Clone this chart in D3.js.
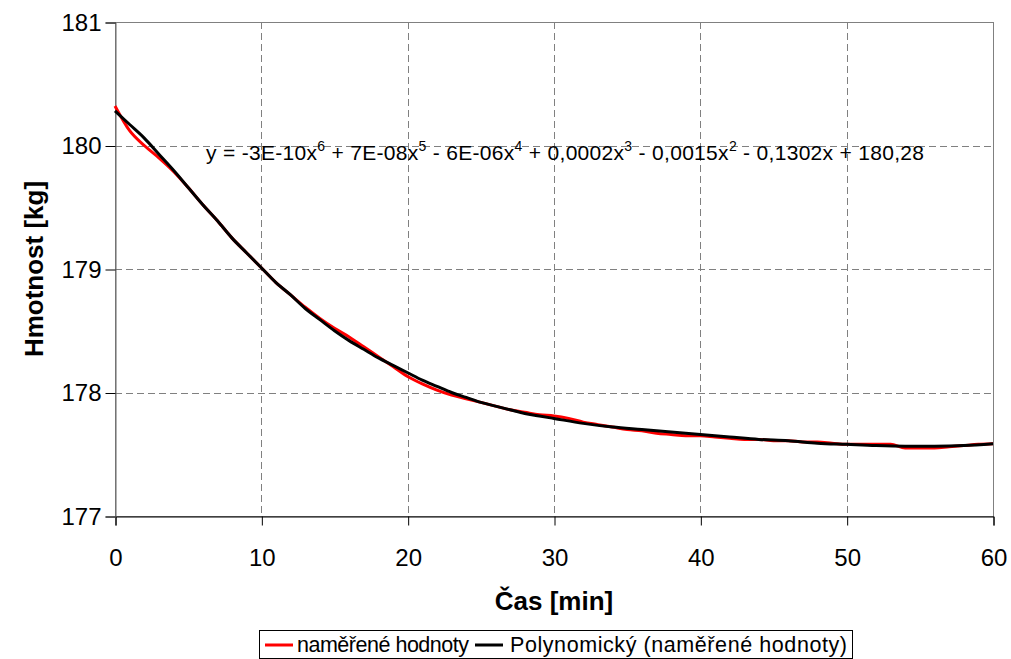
<!DOCTYPE html>
<html>
<head>
<meta charset="utf-8">
<script src="https://cdn.jsdelivr.net/npm/d3@7"></script>
<style>
  html, body { margin: 0; padding: 0; background: #fff; }
  svg { display: block; font-family: "Liberation Sans", Arial, sans-serif; }
  .pre { white-space: pre; }
</style>
</head>
<body>
<svg id="chart" width="1011" height="659"></svg>
<script>
// Measured mass over time (minutes)
const timeMeasured = [0,1,2,3,4,5,6,7,8,9,10,11,12,13,14,15,16,17,18,19,20,21,22,23,24,25,26,27,28,29,30,
  31,32,33,34,35,36,37,38,39,40,41,42,43,44,45,46,47,48,49,50,51,52,53,54,55,56,57,58,59,60];
const massMeasured = [180.32,180.12,180.00,179.90,179.79,179.66,179.52,179.39,179.25,179.13,179.01,
  178.89,178.79,178.69,178.60,178.52,178.45,178.37,178.29,178.21,178.13,178.07,178.02,177.98,177.95,
  177.92,177.89,177.86,177.84,177.82,177.81,177.79,177.76,177.74,177.72,177.70,177.69,177.67,177.66,
  177.65,177.65,177.64,177.63,177.62,177.62,177.61,177.61,177.60,177.60,177.59,177.58,177.58,177.58,
  177.58,177.55,177.55,177.55,177.56,177.57,177.58,177.585];

// Polynomial trendline (6th order) sampled along the time axis
const timeTrend = [0,1,2,3,4,5,6,7,8,9,10,11,12,13,14,15,16,17,18,19,20,21,22,23,24,25,26,27,28,29,30,
  32,34,36,38,40,42,44,46,48,50,52,54,56,58,60];
const massTrend = [180.28,180.17,180.06,179.93,179.80,179.66,179.52,179.39,179.25,179.13,179.01,
  178.89,178.79,178.68,178.59,178.50,178.42,178.35,178.28,178.22,178.16,178.10,178.05,178.00,177.96,
  177.92,177.89,177.86,177.83,177.81,177.79,177.75,177.72,177.70,177.68,177.66,177.64,177.62,177.61,
  177.59,177.58,177.57,177.565,177.565,177.57,177.585];

const xTicks = [0,10,20,30,40,50,60];
const yTicks = [177,178,179,180,181];

const xTitle = "Čas [min]";
const yTitle = "Hmotnost [kg]";
const seriesNames = ["naměřené hodnoty", "Polynomický (naměřené hodnoty)"];
const seriesColors = ["#ff0000", "#000000"];
// trendline equation: [text, superscript] pieces
const equationParts = [["y = -3E-10x","6"],[" + 7E-08x","5"],[" - 6E-06x","4"],[" + 0,0002x","3"],
  [" - 0,0015x","2"],[" - 0,1302x + 180,28",""]];

const svg = d3.select("#chart");
const plotL = 115, plotR = 993, plotT = 22, plotB = 516;
const FONT = "'Liberation Sans', Arial, sans-serif";

const x = d3.scaleLinear().domain([0, 60]).range([plotL, plotR]);
const y = d3.scaleLinear().domain([177, 181]).range([plotB, plotT]);

// grid
const grid = svg.append("g").attr("stroke", "#808080").attr("stroke-width", 1)
  .attr("stroke-dasharray", "7,4").attr("fill", "none");
yTicks.filter(v => v > 177 && v < 181).forEach(v => {
  grid.append("line").attr("x1", plotL).attr("x2", plotR)
    .attr("y1", Math.round(y(v)) + 0.5).attr("y2", Math.round(y(v)) + 0.5);
});
xTicks.filter(v => v > 0 && v < 60).forEach(v => {
  grid.append("line").attr("y1", plotT).attr("y2", plotB)
    .attr("x1", Math.round(x(v)) + 0.5).attr("x2", Math.round(x(v)) + 0.5);
});

// plot area border
svg.append("rect").attr("x", plotL + 0.5).attr("y", plotT + 0.5)
  .attr("width", plotR - plotL).attr("height", plotB - plotT)
  .attr("fill", "none").attr("stroke", "#808080").attr("stroke-width", 1);

// axes
const xAxis = d3.axisBottom(x).tickValues(xTicks).tickSize(9).tickPadding(23).tickFormat(d3.format("d"));
const yAxis = d3.axisLeft(y).tickValues(yTicks).tickSize(10).tickPadding(4).tickFormat(d3.format("d"));

const gx = svg.append("g").attr("transform", `translate(0.5,${plotB + 0.5})`).call(xAxis);
const gy = svg.append("g").attr("transform", `translate(${plotL + 0.5},0.5)`).call(yAxis);
[gx, gy].forEach(g => {
  g.attr("font-family", FONT).attr("font-size", 24);
  g.select(".domain").attr("stroke", "#000");
  g.selectAll(".tick line").attr("stroke", "#000");
  g.selectAll(".tick text").attr("fill", "#000");
});
gy.select(".domain").attr("stroke", "#666");

// series
const line = d3.line().x(d => x(d[0])).y(d => y(d[1])).curve(d3.curveMonotoneX);
svg.append("path").datum(d3.zip(timeMeasured, massMeasured))
  .attr("d", line).attr("fill", "none").attr("stroke", seriesColors[0])
  .attr("stroke-width", 3).attr("stroke-linejoin", "round");
svg.append("path").datum(d3.zip(timeTrend, massTrend))
  .attr("d", line).attr("fill", "none").attr("stroke", seriesColors[1])
  .attr("stroke-width", 3).attr("stroke-linejoin", "round");

// trendline equation with superscript exponents
const eq = svg.append("text").attr("class", "pre").attr("x", 206).attr("y", 160)
  .attr("font-family", FONT).attr("font-size", 21).attr("fill", "#000")
  .attr("textLength", 718).attr("lengthAdjust", "spacing");
let shift = 0;
equationParts.forEach(([t, s]) => {
  eq.append("tspan").attr("dy", shift).text(t);
  shift = 0;
  if (s) {
    eq.append("tspan").text(s).attr("dy", -9).attr("font-size", 14);
    shift = 9;
  }
});

// axis titles
svg.append("text").attr("x", (plotL + plotR) / 2).attr("y", 610)
  .attr("text-anchor", "middle").attr("font-family", FONT).attr("font-size", 26)
  .attr("font-weight", "bold").text(xTitle);
svg.append("text").attr("transform", `translate(43,${(plotT + plotB) / 2}) rotate(-90)`)
  .attr("text-anchor", "middle").attr("font-family", FONT).attr("font-size", 26)
  .attr("font-weight", "bold").text(yTitle);

// legend
const lg = svg.append("g");
lg.append("rect").attr("x", 259.5).attr("y", 630.5).attr("width", 593).attr("height", 28)
  .attr("fill", "#fff").attr("stroke", "#000").attr("stroke-width", 1);
const legendItems = [{x: 265, tx: 297, len: 172, name: seriesNames[0], color: seriesColors[0]},
                     {x: 475, tx: 510, len: 337, name: seriesNames[1], color: seriesColors[1]}];
legendItems.forEach(it => {
  lg.append("line").attr("x1", it.x).attr("x2", it.x + 28).attr("y1", 645).attr("y2", 645)
    .attr("stroke", it.color).attr("stroke-width", 3);
  lg.append("text").attr("x", it.tx).attr("y", 652).attr("font-family", FONT)
    .attr("font-size", 21.5).attr("fill", "#000")
    .attr("textLength", it.len).attr("lengthAdjust", "spacing").text(it.name);
});
</script>
</body>
</html>
